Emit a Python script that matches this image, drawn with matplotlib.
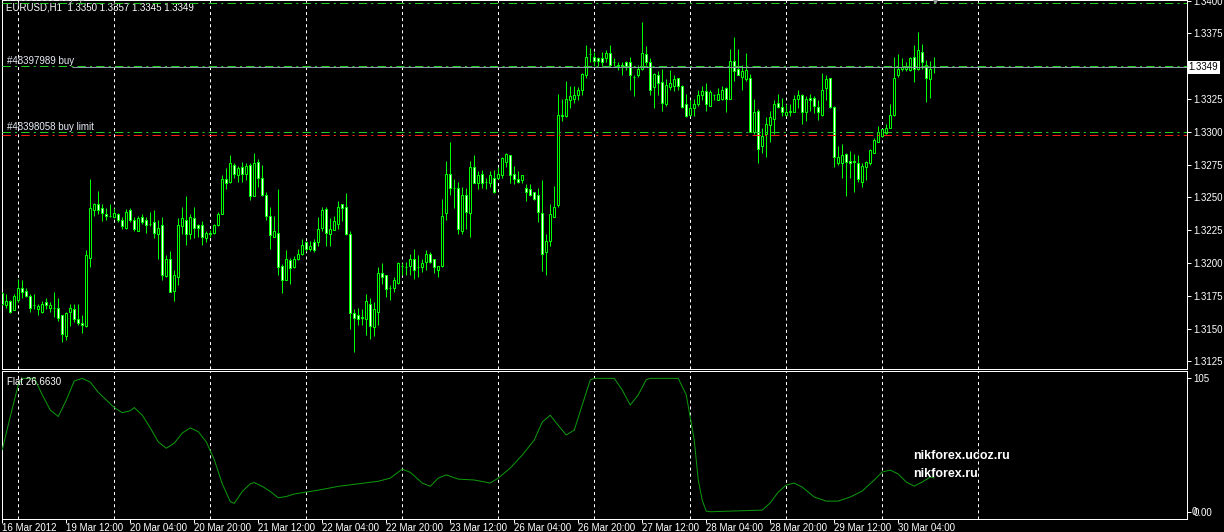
import numpy as np
import matplotlib
matplotlib.use("Agg")
import matplotlib.pyplot as plt
from matplotlib.transforms import blended_transform_factory

plt.rcParams["font.family"] = ["Liberation Sans", "DejaVu Sans"]
plt.rcParams["lines.scale_dashes"] = False

# ---------------- data (EURUSD H1, prices in pips above 1.3000) ----------------
opens = [
    177, 168, 171, 164, 172, 181, 179, 175, 168, 165, 163, 170, 166, 166, 166, 160, 144, 163, 165, 157,
    154, 152, 204, 240, 245, 242, 237, 236, 235, 237, 233, 227, 240, 233, 224, 235, 233, 230, 231, 222,
    229, 190, 203, 179, 189, 228, 233, 222, 234, 229, 229, 219, 223, 223, 229, 237, 264, 262, 275, 267,
    273, 268, 275, 251, 277, 265, 252, 236, 220, 223, 198, 187, 202, 197, 203, 207, 216, 211, 216, 216,
    227, 241, 222, 225, 230, 245, 243, 222, 162, 160, 159, 157, 169, 151, 163, 192, 191, 181, 181, 185,
    198, 197, 198, 203, 197, 197, 201, 207, 203, 195, 198, 238, 268, 257, 257, 224, 252, 238, 273, 261,
    268, 262, 261, 265, 265, 267, 277, 282, 268, 264, 263, 257, 256, 254, 252, 238, 208, 217, 235, 244,
    313, 312, 324, 325, 328, 332, 343, 359, 357, 356, 356, 356, 360, 353, 351, 351, 353, 353, 342, 343,
    348, 359, 353, 334, 343, 338, 321, 334, 335, 341, 335, 321, 313, 318, 321, 328, 331, 320, 328, 324,
    325, 333, 325, 354, 348, 342, 340, 341, 300, 316, 289, 298, 305, 310, 322, 319, 313, 315, 315, 325,
    328, 315, 326, 326, 319, 313, 333, 341, 319, 276, 276, 283, 278, 278, 276, 262, 273, 276, 284, 292,
    297, 299, 303, 313, 343, 348, 348, 347, 357, 348, 361, 351, 340, 350,
]
highs = [
    178, 176, 172, 176, 188, 187, 181, 176, 176, 169, 171, 173, 170, 178, 173, 160, 163, 169, 169, 169,
    160, 210, 264, 246, 255, 245, 242, 245, 242, 238, 235, 241, 242, 235, 236, 237, 235, 239, 240, 233,
    235, 206, 209, 195, 234, 243, 251, 237, 243, 230, 232, 224, 225, 230, 239, 267, 272, 282, 276, 274,
    277, 276, 276, 284, 279, 275, 254, 243, 236, 256, 199, 210, 204, 205, 211, 218, 217, 217, 218, 235,
    243, 243, 234, 236, 247, 245, 253, 224, 165, 166, 165, 176, 173, 170, 197, 200, 191, 183, 189, 201,
    200, 201, 207, 211, 206, 203, 210, 208, 203, 198, 249, 278, 292, 264, 262, 258, 257, 278, 282, 270,
    271, 265, 270, 271, 273, 281, 284, 282, 274, 270, 267, 260, 260, 254, 257, 263, 222, 245, 259, 329,
    325, 339, 335, 335, 334, 345, 366, 364, 361, 357, 361, 362, 366, 356, 353, 353, 354, 357, 343, 351,
    384, 365, 356, 345, 346, 348, 340, 347, 343, 341, 336, 329, 324, 325, 332, 335, 337, 332, 329, 333,
    335, 334, 363, 372, 363, 351, 360, 344, 325, 317, 303, 311, 316, 324, 329, 326, 321, 321, 328, 332,
    329, 327, 329, 327, 324, 345, 343, 341, 320, 289, 291, 284, 285, 283, 282, 276, 278, 287, 295, 304,
    302, 306, 321, 357, 359, 356, 353, 357, 366, 376, 367, 355, 354, 357,
]
lows = [
    168, 166, 162, 164, 170, 173, 174, 163, 165, 160, 162, 165, 163, 159, 156, 140, 141, 152, 155, 153,
    147, 151, 197, 236, 237, 232, 233, 235, 234, 231, 226, 226, 231, 224, 224, 230, 223, 228, 219, 203,
    187, 189, 178, 171, 183, 222, 214, 218, 219, 220, 214, 216, 220, 222, 228, 237, 256, 261, 265, 262,
    262, 263, 248, 251, 258, 251, 233, 211, 220, 191, 177, 187, 184, 196, 202, 206, 209, 209, 208, 213,
    224, 213, 213, 225, 226, 232, 221, 150, 132, 153, 153, 145, 142, 144, 153, 184, 174, 172, 178, 184,
    191, 191, 191, 188, 189, 193, 195, 200, 192, 189, 197, 233, 252, 242, 222, 222, 226, 220, 261, 256,
    257, 256, 258, 253, 264, 265, 273, 261, 260, 261, 261, 247, 251, 248, 231, 194, 191, 213, 235, 243,
    308, 311, 318, 322, 324, 328, 341, 353, 350, 350, 350, 353, 350, 350, 347, 343, 347, 332, 327, 342,
    347, 351, 328, 318, 328, 316, 320, 332, 331, 332, 318, 311, 312, 312, 320, 324, 316, 320, 324, 324,
    324, 315, 325, 339, 343, 332, 339, 300, 298, 276, 284, 281, 292, 298, 318, 312, 312, 312, 315, 318,
    306, 308, 316, 314, 309, 312, 324, 318, 273, 275, 265, 251, 265, 254, 262, 258, 263, 275, 284, 292,
    296, 298, 303, 312, 342, 346, 346, 346, 338, 347, 348, 323, 326, 345,
]
closes = [
    169, 171, 163, 175, 181, 178, 175, 166, 168, 167, 169, 168, 168, 166, 158, 146, 162, 166, 157, 154,
    153, 206, 242, 245, 240, 238, 236, 236, 238, 233, 228, 239, 233, 226, 234, 231, 229, 230, 223, 227,
    191, 203, 178, 191, 229, 234, 222, 235, 227, 227, 220, 223, 222, 229, 237, 264, 261, 276, 268, 272,
    268, 274, 251, 276, 265, 252, 236, 221, 224, 197, 187, 203, 196, 203, 207, 214, 211, 213, 210, 226,
    240, 223, 226, 232, 243, 242, 222, 162, 158, 157, 158, 171, 152, 165, 192, 189, 180, 181, 187, 200,
    198, 197, 203, 195, 197, 200, 207, 201, 197, 198, 236, 268, 257, 257, 226, 252, 239, 273, 261, 267,
    261, 262, 267, 254, 268, 280, 283, 267, 264, 262, 267, 254, 252, 249, 239, 207, 217, 237, 243, 313,
    312, 325, 327, 328, 332, 344, 357, 359, 354, 354, 353, 360, 351, 353, 350, 350, 349, 343, 342, 348,
    360, 353, 332, 344, 337, 322, 336, 337, 340, 335, 319, 312, 318, 321, 328, 331, 321, 330, 328, 329,
    332, 325, 354, 346, 343, 346, 347, 300, 315, 287, 297, 306, 311, 321, 319, 315, 315, 316, 325, 328,
    315, 325, 324, 320, 315, 332, 340, 319, 281, 281, 282, 277, 276, 277, 264, 274, 277, 286, 294, 300,
    302, 303, 313, 341, 348, 349, 350, 356, 348, 362, 353, 341, 348, 349,
]

# indicator "Flat" (bar index, value)
ind_bars = [0, 2, 4, 5, 8, 10, 12, 14, 16, 18, 20, 22, 24, 26, 28, 30, 32, 33, 35, 37,
            39, 41, 43, 45, 47, 49, 51, 53, 55, 57, 58, 60, 62, 63, 65, 67, 69, 71, 73, 75,
            79, 84, 89, 94, 97, 100, 102, 105, 107, 109, 111, 114, 118, 122, 124, 127, 130, 133, 135, 137,
            139, 141, 143, 145, 147, 148, 153, 155, 157, 159, 161, 162, 169, 171, 173, 174, 175, 176, 177, 190,
            192, 194, 196, 198, 200, 203, 206, 209, 212, 215, 218, 220, 222, 224, 226, 228, 230, 232, 233]
ind_vals = [49, 75, 100, 105, 105, 92, 80, 75, 88, 103, 105, 102, 94, 88, 82, 78, 79.5, 82, 76, 66,
            55, 50, 54, 62, 66, 63, 55, 41, 22, 8, 6.6, 16, 22, 23, 20, 16, 11, 12, 14, 15,
            17, 20, 22, 24, 26.5, 33.6, 31, 22.6, 20, 26.5, 29, 25.7, 25, 22.6, 26.5, 34.4, 44.6, 56.5, 70.6, 76,
            68, 60.4, 64.3, 84, 103.7, 105, 105, 95.8, 84, 92, 104, 105, 105, 92, 56.5, 25, 9, 0.5, 0, 1.3,
            7, 15.5, 21, 22.6, 19.4, 11.6, 8.4, 8.4, 11.6, 16.3, 25, 31.3, 32.8, 29.7, 23.4, 20.2, 23.4, 27.3, 26.66]
flat_value = 26.6630

time_labels = ["16 Mar 2012", "19 Mar 12:00", "20 Mar 04:00", "20 Mar 20:00", "21 Mar 12:00",
               "22 Mar 04:00", "22 Mar 20:00", "23 Mar 12:00", "26 Mar 04:00", "26 Mar 20:00",
               "27 Mar 12:00", "28 Mar 04:00", "28 Mar 20:00", "29 Mar 12:00", "30 Mar 04:00"]
label_bars = list(range(0, 225, 16))
day_bars = list(range(4, 245, 24))     # 00:00 of each day

orders = {"buy": 1.3350, "buy limit": 1.3300}
order_ids = {"buy": "#48397989", "buy limit": "#48398058"}
tp_level = 1.3398
red_level = 1.32975
bid = 1.3349
price_ticks = [1.3125, 1.3150, 1.3175, 1.3200, 1.3225, 1.3250, 1.3275, 1.3300, 1.3325, 1.3375, 1.3400]

o = 1.3 + np.array(opens) / 10000
h = 1.3 + np.array(highs) / 10000
l = 1.3 + np.array(lows) / 10000
c = 1.3 + np.array(closes) / 10000
x = np.arange(len(o))

# ---------------- figure ----------------
W, H = 1224, 532
fig = plt.figure(figsize=(W / 100, H / 100), dpi=100, facecolor="black")
ax = fig.add_axes([2 / W, (H - 369) / H, 1185 / W, 369 / H], facecolor="black")
ax2 = fig.add_axes([2 / W, (H - 519) / H, 1185 / W, 148 / H], facecolor="black")

lime = "#00ff00"
px = 0.72

for a in (ax, ax2):
    a.set_xlim(-0.075, 296.2)
    for s in a.spines.values():
        s.set_color("white")
        s.set_linewidth(px)
    for b in day_bars:
        a.axvline(b, color="white", lw=px, ls=(0, (2.2, 2.2)), zorder=1)

# candles
ax.vlines(x, l, h, color=lime, lw=px, zorder=3)
bull = c > o
ax.bar(x, np.abs(c - o), bottom=np.minimum(o, c), width=0.5,
       color=np.where(bull, "black", "white"), edgecolor=lime, linewidth=px, zorder=4)

ax.set_ylim(1.31192, 1.34004)
ax.set_xticks([])
ax.yaxis.tick_right()
ax.set_yticks(price_ticks)
ax.set_yticklabels([f"{t:.4f}" for t in price_ticks])
ax.tick_params(axis="y", colors="white", length=3, width=px, labelsize=7, pad=1.5)

# order lines
dashdot = (0, (6, 3, 1.5, 3))
for name, lvl in orders.items():
    ax.axhline(lvl, color="#22cc22", lw=px, ls=dashdot, zorder=5)
    ax.annotate(f"{order_ids[name]} {name}", xy=(0, lvl), xycoords=("axes fraction", "data"),
                xytext=(5, 0), textcoords="offset pixels", color="#e8eef8", fontsize=7, va="bottom")
ax.axhline(tp_level, color="#22cc22", lw=px, ls=dashdot, zorder=5)
ax.annotate("#48397989 buy tp", xy=(0, tp_level), xycoords=("axes fraction", "data"),
            xytext=(5, 0), textcoords="offset pixels", color="#c0c0c0", fontsize=7, va="bottom")
ax.axhline(red_level, color="#ff1a1a", lw=px, ls=dashdot, zorder=5)
ax.hlines(bid, 17.4, 296.2, color="#8a9aa8", lw=px, zorder=5)

trans = blended_transform_factory(ax.transAxes, ax.transData)
ax.text(1.0015, bid, f"{bid:.4f}", transform=trans, color="black", fontsize=7, va="center",
        ha="left", bbox=dict(facecolor="white", edgecolor="none", pad=1.2), clip_on=False)
ax.plot([x[-1] + 0.3], [1.34004], marker="v", color="#9a9a9a", ms=5, clip_on=False, zorder=6)

ax.text(4 / 1185, 1 - 7 / 369,
        f"EURUSD,H1  {o[-1]:.4f} {h[-1]:.4f} {l[-1]:.4f} {c[-1]:.4f}",
        transform=ax.transAxes, color="white", fontsize=7, va="center")

# indicator window
ax2.plot(ind_bars, ind_vals, color="#0c9a0c", lw=px, zorder=3)
ax2.set_ylim(-5.7, 110.8)
ax2.yaxis.tick_right()
ax2.set_yticks([105, 0])
ax2.set_yticklabels(["105", "0.00"])
ax2.tick_params(axis="y", colors="white", length=3, width=px, labelsize=7, pad=1.5)
ax2.text(1.004, 0, "0", transform=blended_transform_factory(ax2.transAxes, ax2.transData),
         color="white", fontsize=7, va="center", ha="left")
ax2.set_xticks(label_bars)
ax2.set_xticklabels(time_labels, ha="left")
ax2.tick_params(axis="x", colors="white", length=3, width=px, labelsize=7, pad=0)
ax2.text(5 / 1185, 1 - 11 / 148, f"Flat {flat_value:.4f}", transform=ax2.transAxes,
         color="white", fontsize=7, va="center")

fig.text(913 / W, 1 - 456 / H, "nikforex.ucoz.ru", color="white", fontsize=9,
         fontweight="bold", va="center")
fig.text(913 / W, 1 - 474 / H, "nikforex.ru", color="white", fontsize=9,
         fontweight="bold", va="center")

fig.savefig("out.png", dpi=100, facecolor="black")
